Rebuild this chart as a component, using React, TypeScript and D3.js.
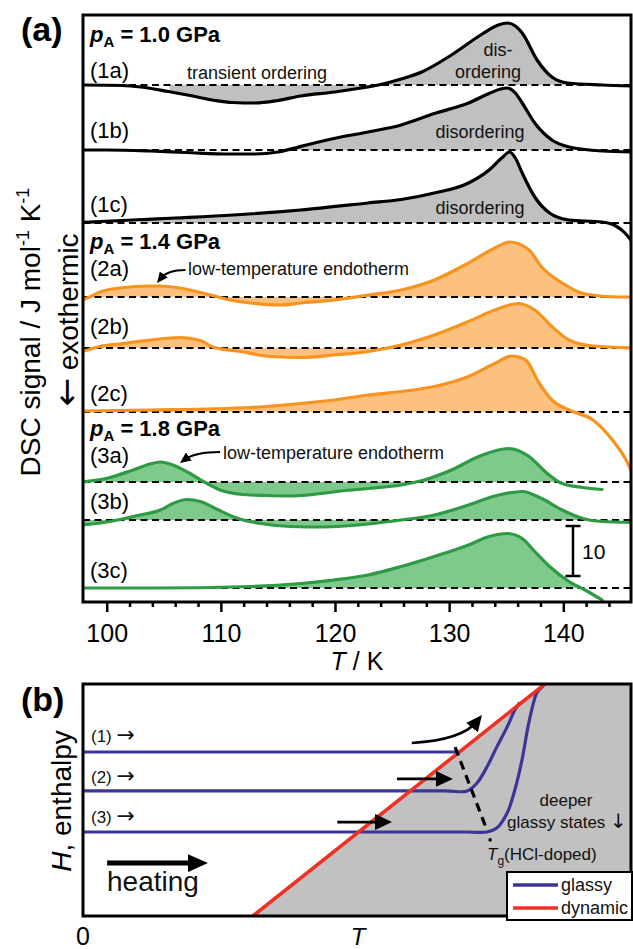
import React, { useEffect, useRef } from 'react'
import * as d3 from 'd3'

type Pt = [number, number]

// (a) DSC traces: [T / K, signal / J mol-1 K-1 relative to the dashed baseline]
const curve1a: Pt[] = [[97.9, 0], [101.4, -0.1], [103, -0.4], [105.4, -1.3], [107.3, -2.1], [109.5, -3.1], [111, -3.5], [113, -3.6], [115, -3.1], [117, -2.2], [120, -1.4], [122, -0.7], [123.8, 0], [125.8, 1.2], [127.6, 2.6], [130.2, 6], [132.9, 10.2], [134.3, 12], [135.1, 12.4], [135.8, 11.8], [136.4, 10.4], [137.7, 5], [139, 1.6], [140.4, 0.4], [143.4, 0], [146.3, -0.2]]
const curve1b: Pt[] = [[97.9, 0], [100, 0], [103.8, -0.2], [107, -0.5], [110.8, -0.8], [113, -0.8], [115, -0.4], [116.5, 0.4], [117.5, 1], [119.9, 2.3], [122.9, 3.6], [125.8, 5], [128.7, 7.3], [131.7, 9.4], [133.5, 11.3], [134.5, 12.2], [135.1, 12.4], [135.8, 11.4], [136.4, 9.4], [137.5, 5.4], [139, 2], [140.5, 0.6], [143.4, -0.2], [146.3, -0.4]]
const curve1c: Pt[] = [[97.9, 0.1], [102.3, 0.6], [106, 1], [111.1, 1.6], [117, 2.6], [122.9, 4], [125.8, 4.7], [128.7, 6], [131.7, 8], [133.5, 10.6], [134.6, 13], [135.3, 14.2], [135.8, 13], [136.4, 10], [137.5, 5.2], [138.8, 2], [140.5, 0.6], [143.4, 0.2], [144.6, -0.6], [145.4, -2], [145.9, -3.4], [146.4, -5.5]]
const curve2a: Pt[] = [[97.9, -0.6], [98.5, 0], [99.4, 1], [101.1, 1.8], [103.8, 2.2], [104.6, 2.2], [106.4, 1.8], [109.1, 0.4], [110.8, -0.6], [112.6, -1.2], [115.2, -1.6], [117, -1.2], [119.9, -0.6], [122.9, 0.4], [125.8, 1.4], [128.7, 3.4], [131.7, 6.8], [134, 9.8], [135.3, 11], [137, 9.4], [138.1, 6], [139.9, 2.8], [141.9, 0.6], [144.9, 0], [146.3, 0]]
const curve2b: Pt[] = [[97.9, -0.7], [99.4, 0.3], [101.1, 0.8], [103.8, 1.6], [106.4, 2.1], [108.2, 1.5], [109.3, 0.2], [111.7, -0.7], [114.4, -1.7], [117, -1.9], [119.9, -1.4], [122.9, -0.7], [125.8, 0.6], [128.7, 2.6], [131.7, 5.3], [134, 7.6], [136.1, 8.9], [137.5, 7.6], [139, 4.3], [140.5, 1.6], [142.6, 0.4], [146.3, 0]]
const curve2c: Pt[] = [[97.9, 0.2], [103.8, 0.4], [112.6, 0.9], [117, 1.7], [119.9, 2.4], [122.9, 3.4], [125.8, 4.1], [128.7, 5.1], [131.7, 7.1], [134, 9.7], [135.5, 11.2], [136.7, 10.4], [137.9, 5.7], [139, 2.4], [140.5, 0.4], [142.6, -1.6], [144.3, -5.6], [145.5, -9.6], [146.3, -13.5]]
const curve3a: Pt[] = [[97.9, 0], [100.3, 0.9], [102.3, 2.4], [103.8, 3.6], [104.7, 4], [105.8, 3.4], [107.3, 1.7], [108.8, -0.3], [110.2, -1.8], [112.6, -2.6], [116.1, -2.8], [118.8, -2.3], [120.5, -1.8], [122.9, -1.3], [125.8, -0.6], [127.8, 0.4], [130.2, 2.4], [132.6, 5.1], [135.2, 6.7], [137, 5.1], [138.4, 2.1], [139.9, -0.3], [141.7, -1.1], [143.4, -1.5]]
const curve3b: Pt[] = [[97.9, -1], [100.3, -0.3], [102.9, 1], [104.7, 2], [105.8, 3.3], [107, 4.1], [108.2, 3.7], [109.7, 2.1], [111.5, 0.3], [113.5, -0.7], [116.1, -1.3], [119, -1.4], [122.9, -0.8], [125.8, 0], [128.7, 1], [131.7, 3], [134, 4.8], [136.4, 5.7], [138.1, 4.3], [139.9, 2], [141.7, 0.3], [143.4, -0.3], [146.3, -0.5]]
const curve3c: Pt[] = [[97.9, 0], [103.8, 0], [112.6, 0.3], [117, 0.9], [119.9, 1.6], [122.9, 2.6], [125.8, 4.3], [128.7, 6.3], [131.7, 8.6], [133.5, 10.3], [135.1, 10.9], [136.4, 9.9], [137.5, 7.3], [138.8, 4.3], [140.5, 1.3], [141.9, -0.4], [143.4, -2.4]]

const curveIds = ['1a', '1b', '1c', '2a', '2b', '2c', '3a', '3b', '3c']
// stacking offsets of the dashed baselines (J mol-1 K-1 above the T axis)
const baselineOffsets = [103.4, 90.4, 75.8, 61, 50.8, 38, 24, 16.4, 2.8]
// temperature range that is shaded between trace and baseline
const fillRanges: Pt[] = [[105.5, 143], [116.2, 142.5], [103, 144.2], [97, 146.5], [97, 146.5], [97, 140.7], [97, 139.8], [97, 142], [112, 141.6]]
const pressures = ['1.0', '1.4', '1.8']
const majorTicks = [100, 110, 120, 130, 140]
const minorTicks = [102, 104, 106, 108, 112, 114, 116, 118, 122, 124, 126, 128, 132, 134, 136, 138, 142, 144]
const scaleBarValue = 10

// (b) schematic H(T), arbitrary units 0..10 on both axes
const dynamicLine: Pt[] = [[3.1, 0], [8.43, 10]]
const glassy1: Pt[] = [[0, 7.07], [6.87, 7.07]]
const glassy2: Pt[] = [[0, 5.39], [6.6, 5.39], [7.01, 5.39], [7.19, 5.73], [7.37, 6.42], [7.55, 7.28], [7.74, 8.15], [7.88, 8.88], [7.97, 9.2]]
const glassy3: Pt[] = [[0, 3.62], [7.0, 3.62], [7.37, 3.62], [7.55, 3.79], [7.74, 4.44], [7.88, 5.43], [8.01, 6.72], [8.12, 8.15], [8.21, 9.09], [8.28, 9.61], [8.39, 9.91]]
const tgLine: Pt[] = [[6.79, 7.28], [7.37, 3.71]]
const tgDot: Pt = [7.43, 3.28]

const font = "'Liberation Sans', Arial, Helvetica, sans-serif"
const arrowFont = "'DejaVu Sans', sans-serif"
const strokes = ['#000000', '#f7931e', '#2e9a44']
const fills = ['#c0c0c0', '#fcc17f', '#7ec98b']
const blue = '#3b3597'
const red = '#ee3124'

function draw(node: SVGSVGElement) {
  const svg = d3.select(node)
  svg.selectAll('*').remove()
  svg.attr('font-family', font)
  const defs = svg.append('defs')

  let markerCount = 0
  const arrow = (g: any, from: Pt, tip: Pt, ctrl: Pt | null, width: number, headLen: number, headW: number) => {
    const id = `ah${markerCount++}`
    defs.append('marker').attr('id', id).attr('viewBox', '0 0 10 10')
      .attr('refX', 5).attr('refY', 5)
      .attr('markerWidth', headLen).attr('markerHeight', headW)
      .attr('markerUnits', 'userSpaceOnUse').attr('orient', 'auto')
      .attr('preserveAspectRatio', 'none')
      .append('path').attr('d', 'M0,0L10,5L0,10z').attr('fill', '#000')
    const ref = ctrl || from
    const dx = tip[0] - ref[0]
    const dy = tip[1] - ref[1]
    const len = Math.hypot(dx, dy)
    const end: Pt = [tip[0] - dx / len * headLen * 0.5, tip[1] - dy / len * headLen * 0.5]
    const p = d3.path()
    p.moveTo(from[0], from[1])
    if (ctrl) p.quadraticCurveTo(ctrl[0], ctrl[1], end[0], end[1])
    else p.lineTo(end[0], end[1])
    g.append('path').attr('d', p.toString()).attr('fill', 'none')
      .attr('stroke', '#000').attr('stroke-width', width).attr('marker-end', `url(#${id})`)
  }

  // ---------------- panel (a) ----------------
  const A = { left: 83, right: 631, top: 15, bottom: 602 }
  const x = d3.scaleLinear().domain([100, 140]).range([106.7, 563.3])
  const y = d3.scaleLinear().domain([0, 117.4]).range([A.bottom, A.top])

  defs.append('clipPath').attr('id', 'clipA').append('rect')
    .attr('x', A.left).attr('y', A.top).attr('width', A.right - A.left).attr('height', A.bottom - A.top)

  const curves = [curve1a, curve1b, curve1c, curve2a, curve2b, curve2c, curve3a, curve3b, curve3c]
  const series = curveIds.map((id, i) => ({
    id, pts: curves[i], offset: baselineOffsets[i], fill: fillRanges[i], group: Math.floor(i / 3)
  }))

  const gA = svg.append('g').attr('clip-path', 'url(#clipA)')

  series.forEach((s, i) => {
    const yb = y(s.offset)
    defs.append('clipPath').attr('id', `fill${i}`).append('rect')
      .attr('x', x(s.fill[0])).attr('y', 0)
      .attr('width', x(s.fill[1]) - x(s.fill[0])).attr('height', 949)
    const area = d3.area<Pt>()
      .x(d => x(d[0]))
      .y0(yb)
      .y1(d => y(s.offset + d[1]))
      .curve(d3.curveMonotoneX)
    gA.append('g').attr('clip-path', `url(#fill${i})`)
      .append('path').datum(s.pts).attr('d', area).attr('fill', fills[s.group])
  })

  series.forEach(s => {
    gA.append('line')
      .attr('x1', A.left).attr('x2', A.right)
      .attr('y1', y(s.offset)).attr('y2', y(s.offset))
      .attr('stroke', '#000').attr('stroke-width', 2.2).attr('stroke-dasharray', '7,4.5')
  })

  series.forEach(s => {
    const line = d3.line<Pt>()
      .x(d => x(d[0]))
      .y(d => y(s.offset + d[1]))
      .curve(d3.curveMonotoneX)
    gA.append('path').datum(s.pts).attr('d', line)
      .attr('fill', 'none').attr('stroke', strokes[s.group])
      .attr('stroke-width', 3.2).attr('stroke-linejoin', 'round').attr('stroke-linecap', 'round')
  })

  // curve labels
  const labelY = [78, 137.5, 212, 276, 334, 401, 463, 509, 578]
  series.forEach((s, i) => {
    svg.append('text').attr('x', 90).attr('y', labelY[i])
      .attr('font-size', 22).attr('fill', '#000').text(`(${s.id})`)
  })

  // pressure headers
  const pressY = [42, 249, 436]
  pressures.forEach((p, i) => {
    const t = svg.append('text').attr('x', 90).attr('y', pressY[i])
      .attr('font-size', 22).attr('font-weight', 'bold').attr('fill', '#000')
    t.append('tspan').attr('font-style', 'italic').text('p')
    t.append('tspan').attr('font-size', 15).attr('dy', 5).text('A')
    t.append('tspan').attr('dy', -5).text(` = ${p} GPa`)
  })

  // annotations
  const ann = (tx: number, ty: number, s: string, anchor = 'start') =>
    svg.append('text').attr('x', tx).attr('y', ty).attr('font-size', 18)
      .attr('text-anchor', anchor).attr('fill', '#111').text(s)
  ann(498, 56, 'dis-', 'middle')
  ann(488, 78, 'ordering', 'middle')
  ann(187, 79, 'transient ordering')
  ann(480, 138, 'disordering', 'middle')
  ann(480, 214, 'disordering', 'middle')
  ann(188, 275, 'low-temperature endotherm')
  ann(223, 458.5, 'low-temperature endotherm')

  const gArr = svg.append('g')
  arrow(gArr, [x(106.9), y(66.4)], [x(104.41), y(63.8)], [x(105.3), y(66.4)], 2.2, 11, 10)
  arrow(gArr, [x(109.93), y(30)], [x(106.42), y(27.8)], [x(107.74), y(30)], 2.2, 11, 10)

  // scale bar
  const sbX = x(140.85)
  const sb0 = 5.2
  svg.append('line').attr('x1', sbX).attr('x2', sbX).attr('y1', y(sb0)).attr('y2', y(sb0 + scaleBarValue))
    .attr('stroke', '#000').attr('stroke-width', 2.5)
  ;[sb0, sb0 + scaleBarValue].forEach(v => {
    svg.append('line').attr('x1', sbX - 7.5).attr('x2', sbX + 7.5).attr('y1', y(v)).attr('y2', y(v))
      .attr('stroke', '#000').attr('stroke-width', 2.5)
  })
  svg.append('text').attr('x', sbX + 9).attr('y', y(sb0 + scaleBarValue / 2) + 8)
    .attr('font-size', 21).attr('fill', '#000').text(String(scaleBarValue))

  // x axis
  const axisMajor = svg.append('g').attr('transform', `translate(0,${A.bottom})`)
    .call(d3.axisBottom(x).tickValues(majorTicks).tickSize(10).tickPadding(12).tickFormat(d3.format('d')))
  axisMajor.attr('font-size', 25).attr('font-family', font)
  axisMajor.select('.domain').remove()
  axisMajor.selectAll('line').attr('stroke-width', 2.5)
  axisMajor.selectAll('text').attr('fill', '#000')
  const axisMinor = svg.append('g').attr('transform', `translate(0,${A.bottom})`)
    .call(d3.axisBottom(x).tickValues(minorTicks).tickSize(5).tickFormat(() => ''))
  axisMinor.select('.domain').remove()
  axisMinor.selectAll('line').attr('stroke-width', 2.5)

  const xt = svg.append('text').attr('x', (A.left + A.right) / 2).attr('y', 670)
    .attr('font-size', 25).attr('text-anchor', 'middle').attr('fill', '#000')
  xt.append('tspan').attr('font-style', 'italic').text('T')
  xt.append('tspan').text(' / K')

  // y label
  const yl = svg.append('text').attr('transform', 'translate(40,332) rotate(-90)')
    .attr('text-anchor', 'middle').attr('font-size', 28).attr('fill', '#000')
  yl.append('tspan').text('DSC signal / J mol')
  yl.append('tspan').attr('font-size', 18).attr('dy', -11).text('-1')
  yl.append('tspan').attr('dy', 11).text(' K')
  yl.append('tspan').attr('font-size', 18).attr('dy', -11).text('-1')
  const ex = svg.append('text').attr('transform', 'translate(78,320) rotate(-90)')
    .attr('text-anchor', 'middle').attr('font-size', 28).attr('fill', '#000')
  ex.append('tspan').attr('font-family', arrowFont).attr('font-size', 34).text('\u2190')
  ex.append('tspan').text(' exothermic')

  svg.append('rect').attr('x', A.left).attr('y', A.top)
    .attr('width', A.right - A.left).attr('height', A.bottom - A.top)
    .attr('fill', 'none').attr('stroke', '#000').attr('stroke-width', 3)

  svg.append('text').attr('x', 21).attr('y', 41).attr('font-size', 34)
    .attr('font-weight', 'bold').attr('fill', '#000').text('(a)')

  // ---------------- panel (b) ----------------
  const B = { left: 83, right: 631, top: 684, bottom: 916 }
  const xB = d3.scaleLinear().domain([0, 10]).range([B.left, B.right])
  const yB = d3.scaleLinear().domain([0, 10]).range([B.bottom, B.top])

  defs.append('clipPath').attr('id', 'clipB').append('rect')
    .attr('x', B.left).attr('y', B.top).attr('width', B.right - B.left).attr('height', B.bottom - B.top)
  const gB = svg.append('g').attr('clip-path', 'url(#clipB)')

  const grayPoly: Pt[] = [dynamicLine[0], dynamicLine[1], [10, 10], [10, 0]]
  gB.append('path').datum(grayPoly)
    .attr('d', d3.line<Pt>().x(d => xB(d[0])).y(d => yB(d[1])).curve(d3.curveLinearClosed))
    .attr('fill', '#c0c1c0')

  const lineB = d3.line<Pt>().x(d => xB(d[0])).y(d => yB(d[1])).curve(d3.curveCatmullRom.alpha(0.5))
  ;[glassy1, glassy2, glassy3].forEach(g => {
    gB.append('path').datum(g).attr('d', lineB).attr('fill', 'none')
      .attr('stroke', blue).attr('stroke-width', 3.2)
  })
  gB.append('path').datum(dynamicLine).attr('d', lineB).attr('fill', 'none')
    .attr('stroke', red).attr('stroke-width', 3.6)

  gB.append('path').datum(tgLine).attr('d', lineB).attr('fill', 'none')
    .attr('stroke', '#000').attr('stroke-width', 3.2).attr('stroke-dasharray', '9,6')
  gB.append('circle').attr('cx', xB(tgDot[0])).attr('cy', yB(tgDot[1])).attr('r', 1.8).attr('fill', '#000')

  const gBA = svg.append('g')
  const P = (p: Pt): Pt => [xB(p[0]), yB(p[1])]
  arrow(gBA, P([6.0, 7.46]), P([7.28, 8.66]), P([6.92, 7.59]), 2.6, 16, 15)
  arrow(gBA, P([5.73, 5.91]), P([6.75, 5.91]), null, 2.8, 17, 16)
  arrow(gBA, P([4.64, 4.05]), P([5.64, 4.05]), null, 2.8, 17, 16)
  arrow(gBA, P([0.44, 2.28]), P([2.28, 2.28]), null, 5, 20, 18)

  const tb = (tx: number, ty: number, s: string, size: number, anchor = 'start') =>
    svg.append('text').attr('x', tx).attr('y', ty).attr('font-size', size)
      .attr('text-anchor', anchor).attr('fill', '#111').text(s)
  ;[['(1) ', 742], ['(2) ', 783], ['(3) ', 823]].forEach(([s, ty]: any) => {
    const t = svg.append('text').attr('x', 91).attr('y', ty).attr('font-size', 17).attr('fill', '#111')
    t.append('tspan').text(s)
    t.append('tspan').attr('font-family', arrowFont).attr('font-size', 22).text('\u2192')
  })
  tb(107, 891, 'heating', 28)
  tb(566, 806, 'deeper', 17, 'middle')
  const gs = svg.append('text').attr('x', 567).attr('y', 828).attr('font-size', 17)
    .attr('text-anchor', 'middle').attr('fill', '#111')
  gs.append('tspan').text('glassy states ')
  gs.append('tspan').attr('font-family', arrowFont).attr('font-size', 20).text('\u2193')

  const tg = svg.append('text').attr('x', 487).attr('y', 860).attr('font-size', 17).attr('fill', '#111')
  tg.append('tspan').attr('font-style', 'italic').text('T')
  tg.append('tspan').attr('font-size', 12).attr('dy', 5).text('g')
  tg.append('tspan').attr('dy', -5).text('(HCl-doped)')

  svg.append('rect').attr('x', B.left).attr('y', B.top)
    .attr('width', B.right - B.left).attr('height', B.bottom - B.top)
    .attr('fill', 'none').attr('stroke', '#000').attr('stroke-width', 3)

  // legend (drawn over the frame, as in the original)
  svg.append('rect').attr('x', 507).attr('y', 872).attr('width', 125).attr('height', 48)
    .attr('fill', '#fff').attr('stroke', '#000').attr('stroke-width', 2)
  ;[[blue, 'glassy', 885], [red, 'dynamic', 908]].forEach(([c, s, ly]: any) => {
    svg.append('line').attr('x1', 513).attr('x2', 558).attr('y1', ly).attr('y2', ly)
      .attr('stroke', c).attr('stroke-width', 3.5)
    svg.append('text').attr('x', 561).attr('y', ly + 6).attr('font-size', 18).attr('fill', '#111').text(s)
  })

  const hl = svg.append('text').attr('transform', `translate(71,801) rotate(-90)`)
    .attr('text-anchor', 'middle').attr('font-size', 28).attr('fill', '#000')
  hl.append('tspan').attr('font-style', 'italic').text('H')
  hl.append('tspan').text(', enthalpy')

  svg.append('text').attr('x', B.left).attr('y', 945).attr('font-size', 25)
    .attr('text-anchor', 'middle').attr('fill', '#000').text('0')
  svg.append('text').attr('x', 358).attr('y', 945).attr('font-size', 24)
    .attr('font-style', 'italic').attr('text-anchor', 'middle').attr('fill', '#000').text('T')

  svg.append('text').attr('x', 21).attr('y', 711).attr('font-size', 34)
    .attr('font-weight', 'bold').attr('fill', '#000').text('(b)')
}

const App = () => {
  const ref = useRef<SVGSVGElement>(null)
  useEffect(() => {
    document.body.style.margin = '0'
    if (ref.current) draw(ref.current)
  }, [])
  return <svg ref={ref} width={633} height={949} style={{ display: 'block', background: '#fff' }} />
}

export default App
